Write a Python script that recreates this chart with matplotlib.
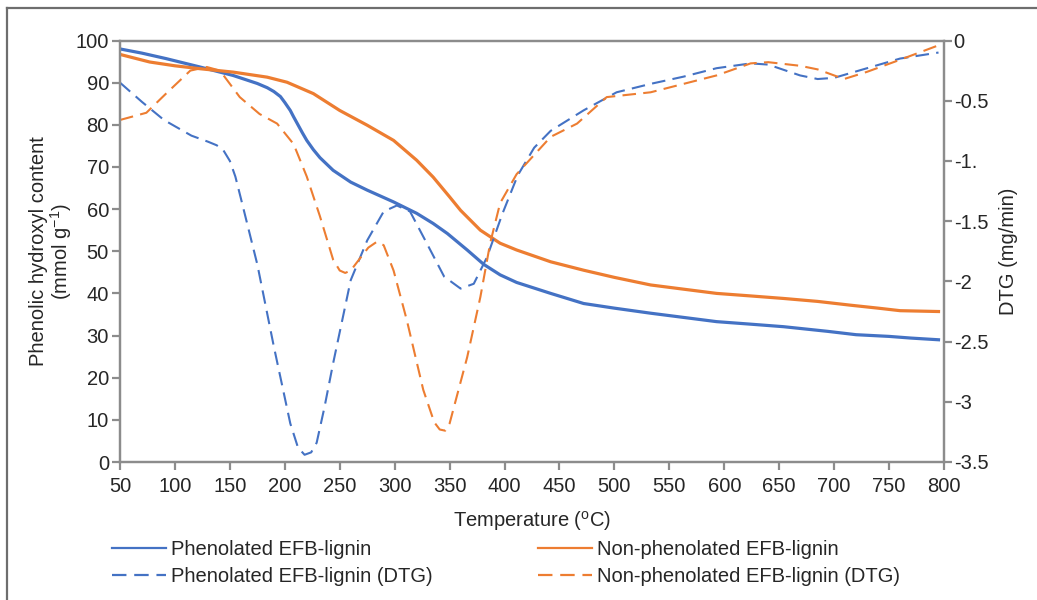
import matplotlib
matplotlib.use("Agg")
import matplotlib.pyplot as plt
from matplotlib.lines import Line2D

plt.rcParams['font.family'] = ['Liberation Sans', 'DejaVu Sans']
plt.rcParams['mathtext.fontset'] = 'custom'
plt.rcParams['mathtext.rm'] = 'Liberation Sans'
plt.rcParams['mathtext.it'] = 'Liberation Sans'

# Phenolic hydroxyl content curves (left axis)
temp_phen = [50, 70, 92, 123, 153, 175, 184, 190, 196, 200, 205, 208, 212, 216, 220, 226,
             232, 244, 260, 275, 299, 320, 335, 348, 366, 381, 396, 411, 442, 472, 500,
             533, 563, 593, 624, 654, 694, 720, 750, 770, 795]
oh_phen = [98.0, 97.0, 95.7, 93.7, 91.7, 89.8, 88.8, 87.9, 86.7, 85.3, 83.4, 81.9, 80.0,
           78.1, 76.3, 74.1, 72.2, 69.2, 66.4, 64.5, 61.7, 59.0, 56.6, 54.2, 50.3, 46.9,
           44.4, 42.6, 40.0, 37.6, 36.5, 35.3, 34.3, 33.3, 32.7, 32.1, 31.0, 30.2, 29.8,
           29.4, 29.0]

temp_nonphen = [50, 77, 100, 123, 153, 184, 202, 226, 250, 275, 299, 320, 335, 350, 360,
                378, 396, 411, 442, 472, 500, 533, 563, 593, 624, 654, 685, 715, 740,
                760, 795]
oh_nonphen = [96.7, 94.9, 94.0, 93.3, 92.5, 91.3, 90.1, 87.4, 83.4, 79.9, 76.3, 71.6, 67.6,
              62.9, 59.7, 55.0, 51.9, 50.3, 47.5, 45.5, 43.8, 42.0, 41.0, 40.0, 39.4,
              38.8, 38.1, 37.2, 36.5, 35.9, 35.7]

# DTG curves (right axis, mg/min)
temp_phen_dtg = [50, 70, 90, 115, 130, 138, 144, 150, 155, 160, 175, 190, 205, 212, 218,
                 224, 229, 236, 244, 260, 275, 290, 302, 314, 329, 345, 360, 372, 384,
                 398, 412, 427, 442, 472, 502, 533, 563, 593, 624, 640, 669, 685, 700,
                 730, 760, 795]
dtg_phen = [-0.35, -0.51, -0.66, -0.79, -0.84, -0.87, -0.91, -1.00, -1.13, -1.31, -1.86,
            -2.54, -3.18, -3.38, -3.44, -3.42, -3.34, -3.05, -2.68, -1.99, -1.66, -1.42,
            -1.37, -1.42, -1.68, -1.96, -2.06, -2.02, -1.80, -1.44, -1.12, -0.89, -0.75,
            -0.58, -0.43, -0.36, -0.30, -0.23, -0.19, -0.20, -0.29, -0.32, -0.31, -0.23,
            -0.15, -0.10]

temp_nonphen_dtg = [50, 74, 92, 114, 129, 141, 159, 177, 193, 208, 220, 232, 244, 250,
                    255, 260, 265, 276, 284, 290, 299, 311, 326, 336, 341, 346, 350, 366,
                    378, 387, 396, 411, 442, 466, 493, 533, 563, 593, 624, 640, 669, 685,
                    709, 730, 760, 795]
dtg_nonphen = [-0.66, -0.60, -0.44, -0.25, -0.22, -0.25, -0.47, -0.61, -0.69, -0.86,
               -1.13, -1.46, -1.82, -1.91, -1.93, -1.91, -1.85, -1.72, -1.67, -1.70, -1.91,
               -2.32, -2.90, -3.17, -3.23, -3.24, -3.18, -2.63, -2.13, -1.68, -1.35, -1.11,
               -0.80, -0.69, -0.47, -0.43, -0.36, -0.29, -0.19, -0.18, -0.21, -0.24, -0.32,
               -0.26, -0.16, -0.04]

x_ticks = list(range(50, 801, 50))
left_ticks = list(range(0, 101, 10))
right_ticks = [0, -0.5, -1.0, -1.5, -2.0, -2.5, -3.0, -3.5]
right_tick_labels = ['0', '-0.5', '-1.', '-1.5', '-2', '-2.5', '-3', '-3.5']

BLUE = '#4472C4'
ORANGE = '#ED7D31'
SPINE = '#8C8C8C'
TEXT = '#262626'
FS = 14.5

fig = plt.figure(figsize=(10.37, 6.0), dpi=100)
ax = fig.add_axes([120 / 1037, 1 - 462 / 600, 824 / 1037, 421.5 / 600])
ax2 = ax.twinx()

ax.plot(temp_phen, oh_phen, color=BLUE, lw=2.3, solid_joinstyle='round', zorder=3)
ax.plot(temp_nonphen, oh_nonphen, color=ORANGE, lw=2.3, solid_joinstyle='round', zorder=3)
ax2.plot(temp_phen_dtg, dtg_phen, color=BLUE, lw=1.5, dashes=(6.5, 3.5),
         dash_joinstyle='round')
ax2.plot(temp_nonphen_dtg, dtg_nonphen, color=ORANGE, lw=1.5, dashes=(6.5, 3.5),
         dash_joinstyle='round')

ax.set_xlim(50, 800)
ax.set_ylim(0, 100)
ax2.set_ylim(-3.5, 0)
ax.set_xticks(x_ticks)
ax.set_yticks(left_ticks)
ax2.set_yticks(right_ticks)
ax2.set_yticklabels(right_tick_labels)

for a in (ax, ax2):
    for s in a.spines.values():
        s.set_color(SPINE)
        s.set_linewidth(1.6)
    a.tick_params(colors=SPINE, labelcolor=TEXT, labelsize=FS, width=1.6, length=6,
                  direction='out')
ax.tick_params(axis='x', pad=5)
ax.tick_params(axis='y', pad=2)
ax2.tick_params(axis='y', pad=1)

ax.set_xlabel('Temperature ($^{\\mathrm{o}}$C)', fontsize=FS, color=TEXT, labelpad=9)
ax.set_ylabel('Phenolic hydroxyl content\n(mmol g$^{-1}$)', fontsize=FS, color=TEXT,
              labelpad=1, linespacing=1.0)
ax2.set_ylabel('DTG (mg/min)', fontsize=FS, color=TEXT, labelpad=8)

handles = [
    Line2D([], [], color=BLUE, lw=1.6),
    Line2D([], [], color=BLUE, lw=1.6, dashes=(6.5, 3.5)),
    Line2D([], [], color=ORANGE, lw=1.6),
    Line2D([], [], color=ORANGE, lw=1.6, dashes=(6.5, 3.5)),
]
labels = ['Phenolated EFB-lignin', 'Phenolated EFB-lignin (DTG)',
          'Non-phenolated EFB-lignin', 'Non-phenolated EFB-lignin (DTG)']
leg = fig.legend(handles, labels, ncol=2, frameon=False, fontsize=FS,
                 loc='upper left', bbox_to_anchor=(112 / 1037, 1 - 540 / 600),
                 handlelength=2.7, handletextpad=0.25, columnspacing=5.2,
                 labelspacing=0.38, borderaxespad=0, borderpad=0)
for t in leg.get_texts():
    t.set_color(TEXT)

# Thin frame along the top and left edges of the figure
fig.add_artist(Line2D([7 / 1037, 1.0], [1 - 8 / 600, 1 - 8 / 600], color='#6E6E6E',
                      lw=1.6, transform=fig.transFigure))
fig.add_artist(Line2D([7 / 1037, 7 / 1037], [0.0, 1 - 8 / 600], color='#6E6E6E',
                      lw=1.6, transform=fig.transFigure))

fig.savefig('out.png', dpi=100)
